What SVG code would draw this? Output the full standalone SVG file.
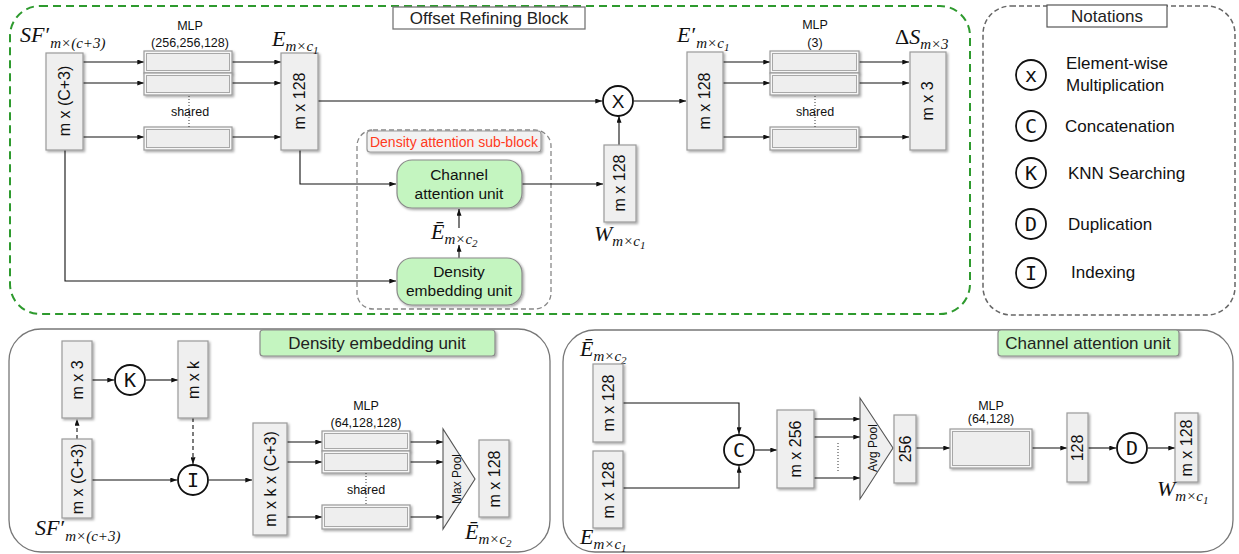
<svg xmlns="http://www.w3.org/2000/svg" width="1239" height="554" viewBox="0 0 1239 554">
  <defs>
    <marker id="arr" viewBox="0 0 8 6" refX="8" refY="3" markerWidth="7" markerHeight="5" markerUnits="userSpaceOnUse" orient="auto">
      <path d="M0,0 L8,3 L0,6 z" fill="#111"/>
    </marker>
    <filter id="sh" x="-20%" y="-20%" width="150%" height="150%">
      <feDropShadow dx="1.5" dy="1.5" stdDeviation="0.8" flood-color="#000" flood-opacity="0.35"/>
    </filter>
    <style>
      .box{fill:#efefef;stroke:#9a9a9a;stroke-width:1.2;filter:url(#sh)}
      .mlpo{fill:#f7f7f7;stroke:#9a9a9a;stroke-width:1.2;filter:url(#sh)}
      .mlpi{fill:#eeeeee;stroke:#a8a8a8;stroke-width:1}
      .lbl{font-family:"Liberation Sans",Arial,sans-serif;font-size:16px;fill:#111}
      .unt{font-family:"Liberation Sans",Arial,sans-serif;font-size:15.5px;fill:#111}
      .small{font-family:"Liberation Sans",Arial,sans-serif;font-size:12.5px;fill:#111}
      .title{font-family:"Liberation Sans",Arial,sans-serif;font-size:17px;fill:#222}
      .note{font-family:"Liberation Sans",Arial,sans-serif;font-size:17px;fill:#111}
      .math{font-family:"Liberation Serif","DejaVu Serif",serif;font-style:italic;font-size:22px;fill:#111}
      .sub{font-size:15px}
      .op{fill:#fff;stroke:#111;stroke-width:1.8}
      .opt{font-family:"DejaVu Sans Mono",monospace;font-size:20px;fill:#111;text-anchor:middle}
      .ln{fill:none;stroke:#111;stroke-width:1.1}
      .arw{fill:none;stroke:#111;stroke-width:1.1;marker-end:url(#arr)}
      .dash{fill:none;stroke:#111;stroke-width:1.1;stroke-dasharray:4 3;marker-end:url(#arr)}
      .dot{fill:none;stroke:#333;stroke-width:1;stroke-dasharray:1 2}
      .unit{fill:#c4f5c0;stroke:#8a8a8a;stroke-width:1.2;filter:url(#sh)}
      .tag{fill:#c4f5c0;stroke:#8a8a8a;stroke-width:1.2;filter:url(#sh)}
      .poolt{fill:#efefef;stroke:#555;stroke-width:1.1}
    </style>
  </defs>

  <!-- ===== Frames ===== -->
  <g id="frames">
    <rect x="10" y="6" width="960" height="308" rx="30" fill="none" stroke="#2e9a2e" stroke-width="2" stroke-dasharray="8 5"/>
    <rect x="983" y="6" width="252" height="309" rx="28" fill="none" stroke="#666" stroke-width="1.5" stroke-dasharray="5 3"/>
    <rect x="357" y="130" width="194" height="179" rx="16" fill="none" stroke="#888" stroke-width="1.3" stroke-dasharray="5 3"/>
    <rect x="9" y="329" width="541" height="223" rx="32" fill="none" stroke="#777" stroke-width="1.3"/>
    <rect x="563" y="330" width="670" height="222" rx="32" fill="none" stroke="#777" stroke-width="1.3"/>
  </g>

  <!-- ===== Titles ===== -->
  <g id="titles">
    <rect x="393" y="7" width="192" height="22" fill="#fff" stroke="#777" stroke-width="1.3"/>
    <text class="title" x="489" y="24" text-anchor="middle">Offset Refining Block</text>
    <rect x="1047" y="5" width="120" height="22" fill="#fff" stroke="#555" stroke-width="1.2"/>
    <text class="title" x="1107" y="22" text-anchor="middle">Notations</text>
    <rect x="367" y="131" width="174" height="21" rx="3" fill="#f2f2f2" stroke="#999" stroke-width="1.2" filter="url(#sh)"/>
    <text x="454" y="147" text-anchor="middle" font-family="Liberation Sans,Arial,sans-serif" font-size="14" fill="#ff3a1c">Density attention sub-block</text>
    <rect class="tag" x="260" y="330" width="235" height="26" rx="3"/>
    <text class="title" x="377" y="349" text-anchor="middle">Density embedding unit</text>
    <rect class="tag" x="998" y="330" width="181" height="26" rx="3"/>
    <text class="title" x="1088" y="349" text-anchor="middle">Channel attention unit</text>
  </g>

  <!-- ===== Connectors ===== -->
  <g id="connectors">
    <!-- top: input to shared MLP -->
    <line class="arw" x1="83" y1="62" x2="144" y2="62"/>
    <line class="arw" x1="83" y1="83" x2="144" y2="83"/>
    <line class="arw" x1="83" y1="137" x2="144" y2="137"/>
    <line class="arw" x1="232" y1="62" x2="281" y2="62"/>
    <line class="arw" x1="232" y1="83" x2="281" y2="83"/>
    <line class="arw" x1="232" y1="137" x2="281" y2="137"/>
    <line class="arw" x1="318" y1="101" x2="602" y2="101"/>
    <path class="arw" d="M300,150 V184 H396"/>
    <path class="arw" d="M65,150 V281 H396"/>
    <line class="arw" x1="459" y1="258" x2="459" y2="245"/>
    <line class="arw" x1="459" y1="228" x2="459" y2="209"/>
    <line class="arw" x1="522" y1="184" x2="603" y2="184"/>
    <line class="arw" x1="619" y1="145" x2="619" y2="116"/>
    <line class="arw" x1="634" y1="101" x2="686" y2="101"/>
    <line class="arw" x1="723" y1="62" x2="770" y2="62"/>
    <line class="arw" x1="723" y1="83" x2="770" y2="83"/>
    <line class="arw" x1="723" y1="137" x2="770" y2="137"/>
    <line class="arw" x1="859" y1="62" x2="909" y2="62"/>
    <line class="arw" x1="859" y1="83" x2="909" y2="83"/>
    <line class="arw" x1="859" y1="137" x2="909" y2="137"/>

    <!-- density embedding unit -->
    <line class="arw" x1="92" y1="380" x2="114" y2="380"/>
    <line class="arw" x1="146" y1="380" x2="178" y2="380"/>
    <line class="dash" x1="77" y1="439" x2="77" y2="419"/>
    <line class="dash" x1="193" y1="418" x2="193" y2="464"/>
    <line class="arw" x1="92" y1="480" x2="177" y2="480"/>
    <line class="arw" x1="209" y1="480" x2="252" y2="480"/>
    <line class="arw" x1="287" y1="442" x2="322" y2="442"/>
    <line class="arw" x1="287" y1="462" x2="322" y2="462"/>
    <line class="arw" x1="287" y1="517" x2="322" y2="517"/>
    <line class="arw" x1="410" y1="442" x2="443" y2="442"/>
    <line class="arw" x1="410" y1="462" x2="443" y2="462"/>
    <line class="arw" x1="410" y1="517" x2="443" y2="517"/>

    <!-- channel attention unit -->
    <path class="arw" d="M623,403 H739 V434"/>
    <path class="arw" d="M623,488 H739 V466"/>
    <line class="arw" x1="755" y1="450" x2="777" y2="450"/>
    <line class="arw" x1="814" y1="419" x2="860" y2="419"/>
    <line class="arw" x1="814" y1="437" x2="860" y2="437"/>
    <line class="arw" x1="814" y1="478" x2="860" y2="478"/>
    <line class="arw" x1="916" y1="448" x2="950" y2="448"/>
    <line class="arw" x1="1032" y1="448" x2="1067" y2="448"/>
    <line class="arw" x1="1088" y1="448" x2="1116" y2="448"/>
    <line class="arw" x1="1148" y1="448" x2="1175" y2="448"/>
  </g>

  <!-- ===== Offset refining block nodes ===== -->
  <g id="sf-in">
    <rect class="box" x="46" y="53" width="37" height="97"/>
    <text class="lbl" transform="translate(70,101) rotate(-90)" text-anchor="middle">m x (C+3)</text>
    <text class="math" x="20" y="42">SF<tspan font-style="normal" dx="1">′</tspan><tspan class="sub" dy="6">m×(c+3)</tspan></text>
  </g>

  <g id="mlp1">
    <text class="small" x="190" y="30" text-anchor="middle" font-size="13.5">MLP</text>
    <text class="small" x="190" y="47" text-anchor="middle" font-size="13.5">(256,256,128)</text>
    <rect class="mlpo" x="144" y="51" width="88" height="22"/>
    <rect class="mlpi" x="146.5" y="53.5" width="83" height="17"/>
    <rect class="mlpo" x="144" y="73" width="88" height="22"/>
    <rect class="mlpi" x="146.5" y="75.5" width="83" height="17"/>
    <rect class="mlpo" x="144" y="127" width="88" height="23"/>
    <rect class="mlpi" x="146.5" y="129.5" width="83" height="18"/>
    <line class="dot" x1="189" y1="96" x2="189" y2="127"/>
    <text class="small" x="190" y="116" text-anchor="middle" font-size="13.5">shared</text>
  </g>

  <g id="e-feat">
    <rect class="box" x="281" y="53" width="37" height="97"/>
    <text class="lbl" transform="translate(305,101) rotate(-90)" text-anchor="middle">m x 128</text>
    <text class="math" x="272" y="46">E<tspan class="sub" dy="5">m×c<tspan font-size="11" dy="3">1</tspan></tspan></text>
  </g>

  <g id="mul">
    <circle class="op" cx="618" cy="101" r="15"/>
    <text x="618" y="108" text-anchor="middle" font-family="Liberation Sans,Arial,sans-serif" font-size="19" fill="#111">X</text>
  </g>

  <g id="channel-unit">
    <rect class="unit" x="397" y="160" width="125" height="48" rx="15"/>
    <text class="unt" x="459" y="180" text-anchor="middle">Channel</text>
    <text class="unt" x="459" y="199" text-anchor="middle">attention unit</text>
  </g>

  <g id="ebar-top">
    <text class="math" x="431" y="239">Ē<tspan class="sub" dy="5">m×c<tspan font-size="11" dy="3">2</tspan></tspan></text>
  </g>

  <g id="density-unit">
    <rect class="unit" x="397" y="258" width="125" height="47" rx="15"/>
    <text class="unt" x="459" y="277" text-anchor="middle">Density</text>
    <text class="unt" x="459" y="296" text-anchor="middle">embedding unit</text>
  </g>

  <g id="w-top">
    <rect class="box" x="604" y="145" width="32" height="77"/>
    <text class="lbl" transform="translate(625,183) rotate(-90)" text-anchor="middle">m x 128</text>
    <text class="math" x="594" y="241">W<tspan class="sub" dy="5">m×c<tspan font-size="11" dy="3">1</tspan></tspan></text>
  </g>

  <g id="e-prime">
    <rect class="box" x="687" y="52" width="36" height="98"/>
    <text class="lbl" transform="translate(710,101) rotate(-90)" text-anchor="middle">m x 128</text>
    <text class="math" x="677" y="42">E<tspan font-style="normal" dx="1">′</tspan><tspan class="sub" dy="6">m×c<tspan font-size="11" dy="3">1</tspan></tspan></text>
  </g>

  <g id="mlp2">
    <text class="small" x="815" y="29" text-anchor="middle" font-size="13.5">MLP</text>
    <text class="small" x="815" y="47" text-anchor="middle" font-size="13.5">(3)</text>
    <rect class="mlpo" x="770" y="51" width="89" height="22"/>
    <rect class="mlpi" x="772.5" y="53.5" width="84" height="17"/>
    <rect class="mlpo" x="770" y="73" width="89" height="22"/>
    <rect class="mlpi" x="772.5" y="75.5" width="84" height="17"/>
    <rect class="mlpo" x="770" y="127" width="89" height="23"/>
    <rect class="mlpi" x="772.5" y="129.5" width="84" height="18"/>
    <line class="dot" x1="815" y1="96" x2="815" y2="127"/>
    <text class="small" x="815" y="116" text-anchor="middle" font-size="13.5">shared</text>
  </g>

  <g id="delta-s">
    <rect class="box" x="910" y="52" width="36" height="98"/>
    <text class="lbl" transform="translate(933,101) rotate(-90)" text-anchor="middle">m x 3</text>
    <text class="math" x="895" y="44"><tspan font-style="normal">Δ</tspan>S<tspan class="sub" dy="5">m×3</tspan></text>
  </g>

  <!-- ===== Notations ===== -->
  <g id="notations">
    <circle class="op" cx="1031" cy="75" r="15"/>
    <text class="opt" x="1031" y="82">x</text>
    <text class="note" x="1066" y="69">Element-wise</text>
    <text class="note" x="1066" y="91">Multiplication</text>
    <circle class="op" cx="1031" cy="126" r="15"/>
    <text class="opt" x="1031" y="133">C</text>
    <text class="note" x="1065" y="132">Concatenation</text>
    <circle class="op" cx="1031" cy="173" r="15"/>
    <text class="opt" x="1031" y="180">K</text>
    <text class="note" x="1068" y="179">KNN Searching</text>
    <circle class="op" cx="1031" cy="224" r="15"/>
    <text class="opt" x="1031" y="231">D</text>
    <text class="note" x="1068" y="230">Duplication</text>
    <circle class="op" cx="1031" cy="273" r="15"/>
    <text class="opt" x="1031" y="280">I</text>
    <text class="note" x="1071" y="278">Indexing</text>
  </g>

  <!-- ===== Density embedding unit detail ===== -->
  <g id="de-m3">
    <rect class="box" x="62" y="341" width="30" height="77"/>
    <text class="lbl" transform="translate(83,380) rotate(-90)" text-anchor="middle">m x 3</text>
  </g>
  <g id="de-knn">
    <circle class="op" cx="130" cy="380" r="15"/>
    <text class="opt" x="130" y="387">K</text>
  </g>
  <g id="de-mk">
    <rect class="box" x="178" y="341" width="30" height="77"/>
    <text class="lbl" transform="translate(199,380) rotate(-90)" text-anchor="middle">m x k</text>
  </g>
  <g id="de-sf">
    <rect class="box" x="62" y="439" width="30" height="79"/>
    <text class="lbl" transform="translate(83,479) rotate(-90)" text-anchor="middle">m x (C+3)</text>
    <text class="math" x="35" y="535">SF<tspan font-style="normal" dx="1">′</tspan><tspan class="sub" dy="6">m×(c+3)</tspan></text>
  </g>
  <g id="de-index">
    <circle class="op" cx="193" cy="480" r="15"/>
    <text class="opt" x="193" y="487">I</text>
  </g>
  <g id="de-group">
    <rect class="box" x="253" y="423" width="34" height="112"/>
    <text class="lbl" transform="translate(276,479) rotate(-90)" text-anchor="middle">m x k x (C+3)</text>
  </g>
  <g id="de-mlp">
    <text class="small" x="366" y="410" text-anchor="middle">MLP</text>
    <text class="small" x="366" y="427" text-anchor="middle">(64,128,128)</text>
    <rect class="mlpo" x="322" y="431" width="88" height="20"/>
    <rect class="mlpi" x="324.5" y="433.5" width="83" height="15"/>
    <rect class="mlpo" x="322" y="451" width="88" height="22"/>
    <rect class="mlpi" x="324.5" y="453.5" width="83" height="17"/>
    <rect class="mlpo" x="322" y="505" width="88" height="24"/>
    <rect class="mlpi" x="324.5" y="507.5" width="83" height="19"/>
    <line class="dot" x1="366" y1="473" x2="366" y2="505"/>
    <text class="small" x="366" y="494" text-anchor="middle">shared</text>
  </g>
  <g id="de-maxpool">
    <polygon class="poolt" points="443,429 443,529 475,479"/>
    <text transform="translate(461,479) rotate(-90)" text-anchor="middle" font-family="Liberation Sans,Arial,sans-serif" font-size="12" fill="#111">Max Pool</text>
  </g>
  <g id="de-out">
    <rect class="box" x="479" y="440" width="30" height="77"/>
    <text class="lbl" transform="translate(500,479) rotate(-90)" text-anchor="middle">m x 128</text>
    <text class="math" x="465" y="539">Ē<tspan class="sub" dy="5">m×c<tspan font-size="11" dy="3">2</tspan></tspan></text>
  </g>

  <!-- ===== Channel attention unit detail ===== -->
  <g id="ca-ebar">
    <text class="math" x="580" y="356">Ē<tspan class="sub" dy="5">m×c<tspan font-size="11" dy="3">2</tspan></tspan></text>
    <rect class="box" x="593" y="364" width="30" height="78"/>
    <text class="lbl" transform="translate(614,403) rotate(-90)" text-anchor="middle">m x 128</text>
  </g>
  <g id="ca-e">
    <rect class="box" x="593" y="451" width="30" height="77"/>
    <text class="lbl" transform="translate(614,490) rotate(-90)" text-anchor="middle">m x 128</text>
    <text class="math" x="580" y="544">E<tspan class="sub" dy="5">m×c<tspan font-size="11" dy="3">1</tspan></tspan></text>
  </g>
  <g id="ca-concat">
    <circle class="op" cx="739" cy="450" r="15"/>
    <text class="opt" x="739" y="457">C</text>
  </g>
  <g id="ca-m256">
    <rect class="box" x="777" y="410" width="37" height="78"/>
    <text class="lbl" transform="translate(801,449) rotate(-90)" text-anchor="middle">m x 256</text>
    <line class="dot" x1="838" y1="443" x2="838" y2="471"/>
  </g>
  <g id="ca-avgpool">
    <polygon class="poolt" points="860,398 860,499 893,448"/>
    <text transform="translate(877,448) rotate(-90)" text-anchor="middle" font-family="Liberation Sans,Arial,sans-serif" font-size="12" fill="#111">Avg Pool</text>
  </g>
  <g id="ca-256">
    <rect class="box" x="894" y="415" width="22" height="68"/>
    <text class="lbl" transform="translate(911,449) rotate(-90)" text-anchor="middle">256</text>
  </g>
  <g id="ca-mlp">
    <text class="small" x="991" y="410" text-anchor="middle">MLP</text>
    <text class="small" x="991" y="423" text-anchor="middle">(64,128)</text>
    <rect class="mlpo" x="950" y="429" width="82" height="39"/>
    <rect class="mlpi" x="952.5" y="431.5" width="77" height="34"/>
  </g>
  <g id="ca-128">
    <rect class="box" x="1067" y="413" width="21" height="69"/>
    <text class="lbl" transform="translate(1083,448) rotate(-90)" text-anchor="middle">128</text>
  </g>
  <g id="ca-dup">
    <circle class="op" cx="1132" cy="448" r="15"/>
    <text class="opt" x="1132" y="455">D</text>
  </g>
  <g id="ca-w">
    <rect class="box" x="1175" y="413" width="23" height="69"/>
    <text class="lbl" transform="translate(1192,448) rotate(-90)" text-anchor="middle">m x 128</text>
    <text class="math" x="1157" y="496">W<tspan class="sub" dy="5">m×c<tspan font-size="11" dy="3">1</tspan></tspan></text>
  </g>
</svg>
